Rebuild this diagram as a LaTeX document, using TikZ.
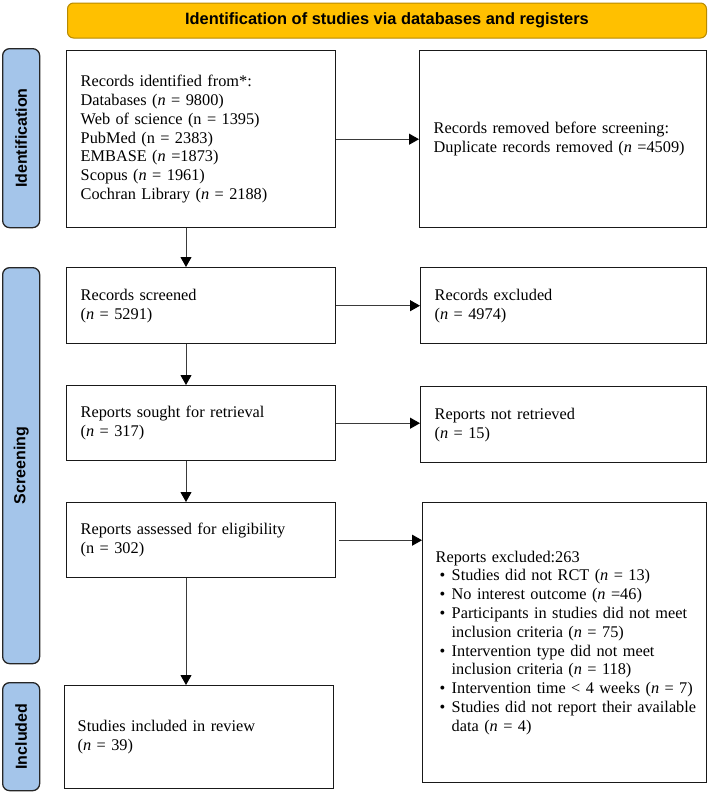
\documentclass[tikz,border=0pt]{standalone}
\usepackage{fontspec}
\setmainfont{Liberation Serif}
\newfontfamily\labfont{Liberation Sans}
\usetikzlibrary{arrows.meta}
\definecolor{hdrfill}{HTML}{FFC000}
\definecolor{hdrdraw}{HTML}{B88A00}
\definecolor{barfill}{HTML}{A4C5EA}
\definecolor{bardraw}{HTML}{262626}
\definecolor{linegray}{HTML}{3A3A3A}
\newcommand\bitem[1]{\hspace*{4pt}\makebox[12pt][l]{\textbullet}\mbox{#1}}
\newcommand\bcont[1]{\hspace*{16pt}\mbox{#1}}
\begin{document}
\begin{tikzpicture}[x=1pt,y=1pt,
 box/.style={draw=black!90, line width=1.4pt, rectangle, inner xsep=14pt, inner ysep=0pt, align=left, anchor=north west, font=\fontsize{16.3}{18.8}\selectfont},
 bar/.style={draw=bardraw, fill=barfill, line width=1.3pt, rounded corners=7pt, anchor=north west, inner sep=0pt, minimum width=37pt},
 barlabel/.style={rotate=90, font=\labfont\bfseries\fontsize{16}{19}\selectfont},
 arr/.style={draw=linegray, line width=1pt, -{Triangle[length=10pt,width=11pt,color=black]}},
]
\useasboundingbox (0,0) rectangle (708,-793);

% header
\node[draw=hdrdraw, fill=hdrfill, rounded corners=6pt, line width=1pt, minimum width=639pt, minimum height=35pt, anchor=north west, inner sep=0pt, font=\labfont\bfseries\fontsize{16.4}{19}\selectfont] (hdr) at (67,-2.5) {Identification of studies via databases and registers};

% side bars
\node[bar, minimum height=179pt] (b1) at (2,-48) {};
\node[barlabel] (l1) at (b1.center) {Identification};
\node[bar, minimum height=396pt] (b2) at (2,-267) {};
\node[barlabel] (l2) at (b2.center) {Screening};
\node[bar, minimum height=108pt] (b3) at (2,-682) {};
\node[barlabel] (l3) at (b3.center) {Included};

% boxes
\node[box, text width=241pt, minimum height=177pt] (ident) at (66,-50) {Records identified from*:\\
Databases (\textit{n} = 9800)\\
Web of science (n = 1395)\\
PubMed (n = 2383)\\
EMBASE (\textit{n} =1873)\\
Scopus (\textit{n} = 1961)\\
Cochran Library (\textit{n} = 2188)};

\node[box, text width=259pt, minimum height=177pt] (removed) at (419,-50) {Records removed before screening:\\
Duplicate records removed (\textit{n} =4509)};

\node[box, text width=241pt, minimum height=76pt] (screened) at (66,-267) {Records screened\\
(\textit{n} = 5291)};

\node[box, text width=258pt, minimum height=76pt] (excluded) at (420,-267) {Records excluded\\
(\textit{n} = 4974)};

\node[box, text width=241pt, minimum height=75pt] (sought) at (66,-385) {Reports sought for retrieval\\
(\textit{n} = 317)};

\node[box, text width=258pt, minimum height=76pt] (notret) at (420,-386) {Reports not retrieved\\
(\textit{n} = 15)};

\node[box, text width=241pt, minimum height=75pt] (assessed) at (66,-502) {Reports assessed for eligibility\\
(n = 302)};

\node[box, inner xsep=13pt, text width=258pt, minimum height=280pt] (repexcl) at (422,-502) {Reports excluded:263\\
\bitem{Studies did not RCT (\textit{n} = 13)}\\
\bitem{No interest outcome (\textit{n} =46)}\\
\bitem{Participants in studies did not meet}\\
\bcont{inclusion criteria (\textit{n} = 75)}\\
\bitem{Intervention type did not meet}\\
\bcont{inclusion criteria (\textit{n} = 118)}\\
\bitem{Intervention time < 4 weeks (\textit{n} = 7)}\\
\bitem{Studies did not report their available}\\
\bcont{data (\textit{n} = 4)}};

\node[box, inner xsep=13pt, text width=243pt, minimum height=103pt] (included) at (64,-685) {Studies included in review\\
(\textit{n} = 39)};

% connectors
\coordinate (colx) at (186,0);
\draw[arr] (ident.south -| colx) -- (screened.north -| colx);
\draw[arr] (screened.south -| colx) -- (sought.north -| colx);
\draw[arr] (sought.south -| colx) -- (assessed.north -| colx);
\draw[arr] (assessed.south -| colx) -- (included.north -| colx);

\draw[arr] (ident.east) -- (ident.east -| removed.west);
\draw[arr] (screened.east) -- (screened.east -| excluded.west);
\draw[arr] (sought.east) -- (sought.east -| notret.west);
\draw[arr] ([xshift=3pt]assessed.east) -- (assessed.east -| repexcl.west);
\end{tikzpicture}
\end{document}
